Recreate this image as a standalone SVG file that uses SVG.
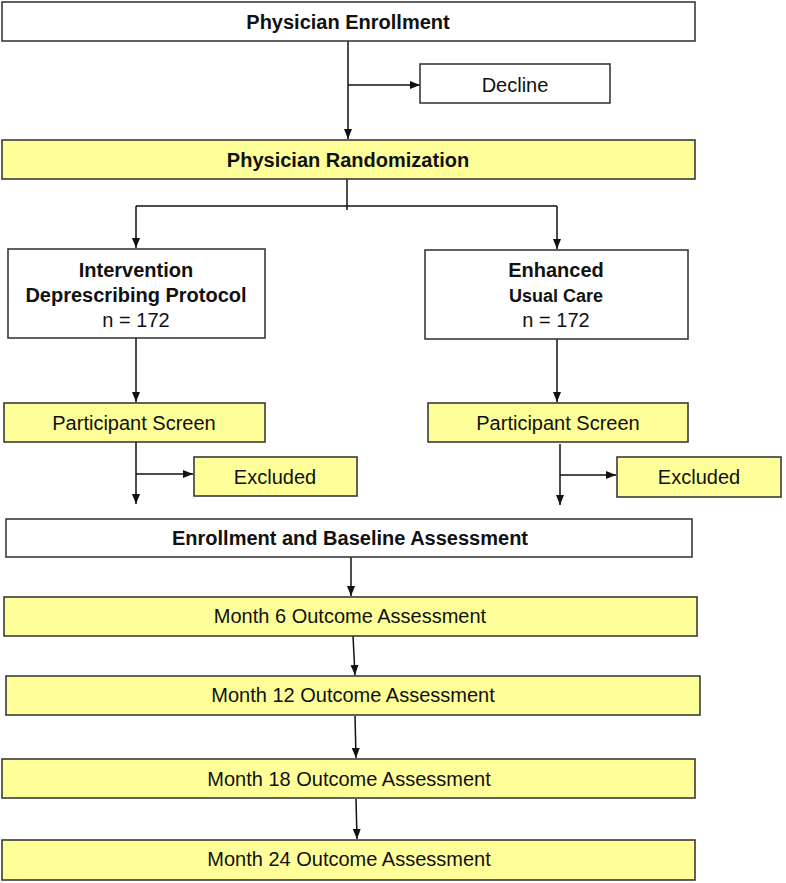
<svg xmlns="http://www.w3.org/2000/svg" width="786" height="883" viewBox="0 0 786 883">
<style>
.box{stroke:#3a3a3a;stroke-width:1.6}
.w{fill:#ffffff}
.y{fill:#ffff99}
.t{font-family:"Liberation Sans",Arial,sans-serif;font-size:20px;fill:#111;text-anchor:middle}
.b{font-weight:bold}
.c{fill:none;stroke:#111;stroke-width:1.5}
</style>
<defs>
<marker id="ah" markerWidth="10" markerHeight="8" refX="10" refY="4" orient="auto" markerUnits="userSpaceOnUse">
<path d="M0,0 L10,4 L0,8 Z" fill="#111"/>
</marker>
</defs>
<g id="connectors">
<path class="c" d="M348,41 V139" marker-end="url(#ah)"/>
<path class="c" d="M348,85 H420" marker-end="url(#ah)"/>
<path class="c" d="M347,179 V210"/>
<path class="c" d="M136,206 H557"/>
<path class="c" d="M136,206 V248" marker-end="url(#ah)"/>
<path class="c" d="M557,206 V249" marker-end="url(#ah)"/>
<path class="c" d="M136,338 V402" marker-end="url(#ah)"/>
<path class="c" d="M557,339 V402" marker-end="url(#ah)"/>
<path class="c" d="M136,442 V504" marker-end="url(#ah)"/>
<path class="c" d="M136,474 H193" marker-end="url(#ah)"/>
<path class="c" d="M560,444 V505" marker-end="url(#ah)"/>
<path class="c" d="M560,475 H616" marker-end="url(#ah)"/>
<path class="c" d="M351,557 V596" marker-end="url(#ah)"/>
<path class="c" d="M353,636 L355,675" marker-end="url(#ah)"/>
<path class="c" d="M355,716 L356,758" marker-end="url(#ah)"/>
<path class="c" d="M356,799 L357,839" marker-end="url(#ah)"/>
</g>
<g id="physician-enrollment">
<rect class="box w" x="2" y="2" width="693" height="39"/>
<text class="t b" x="348" y="29">Physician Enrollment</text>
</g>
<g id="decline">
<rect class="box w" x="420" y="64" width="190" height="39"/>
<text class="t" x="515" y="92">Decline</text>
</g>
<g id="physician-randomization">
<rect class="box y" x="2" y="140" width="693" height="39"/>
<text class="t b" x="348" y="167">Physician Randomization</text>
</g>
<g id="intervention">
<rect class="box w" x="8" y="249" width="257" height="89"/>
<text class="t b" x="136" y="277">Intervention</text>
<text class="t b" x="136" y="302">Deprescribing Protocol</text>
<text class="t" x="136" y="327">n = 172</text>
</g>
<g id="enhanced">
<rect class="box w" x="425" y="250" width="263" height="89"/>
<text class="t b" x="556" y="277">Enhanced</text>
<text class="t b" x="556" y="302" style="font-size:18px">Usual Care</text>
<text class="t" x="556" y="327">n = 172</text>
</g>
<g id="screen-left">
<rect class="box y" x="4" y="403" width="261" height="39"/>
<text class="t" x="134" y="430">Participant Screen</text>
</g>
<g id="screen-right">
<rect class="box y" x="428" y="403" width="260" height="39"/>
<text class="t" x="558" y="430">Participant Screen</text>
</g>
<g id="excluded-left">
<rect class="box y" x="194" y="457" width="163" height="39"/>
<text class="t" x="275" y="484">Excluded</text>
</g>
<g id="excluded-right">
<rect class="box y" x="617" y="457" width="164" height="40"/>
<text class="t" x="699" y="484">Excluded</text>
</g>
<g id="enrollment-baseline">
<rect class="box w" x="6" y="519" width="686" height="38"/>
<text class="t b" x="350" y="545">Enrollment and Baseline Assessment</text>
</g>
<g id="month6">
<rect class="box y" x="4" y="597" width="693" height="39"/>
<text class="t" x="350" y="623">Month 6 Outcome Assessment</text>
</g>
<g id="month12">
<rect class="box y" x="6" y="676" width="694" height="39"/>
<text class="t" x="353" y="702">Month 12 Outcome Assessment</text>
</g>
<g id="month18">
<rect class="box y" x="2" y="759" width="693" height="39"/>
<text class="t" x="349" y="786">Month 18 Outcome Assessment</text>
</g>
<g id="month24">
<rect class="box y" x="2" y="840" width="693" height="40"/>
<text class="t" x="349" y="866">Month 24 Outcome Assessment</text>
</g>
</svg>
